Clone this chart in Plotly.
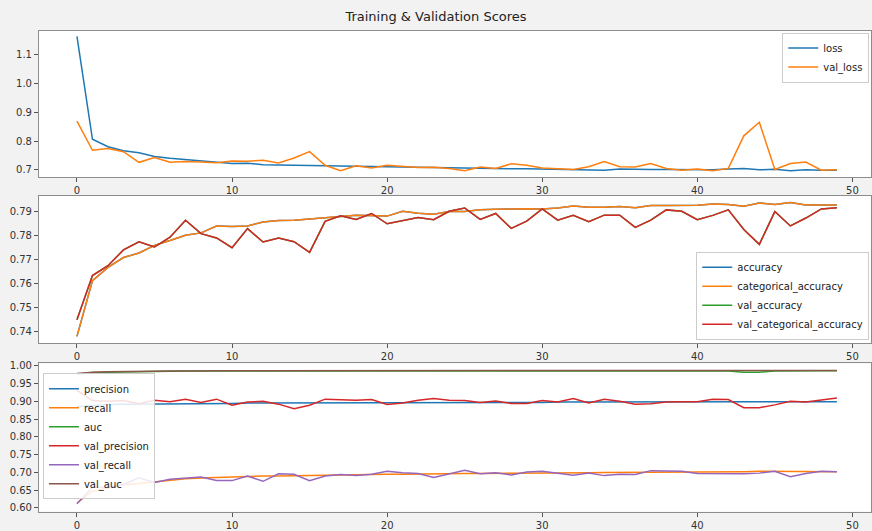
import plotly.graph_objects as go

epochs = list(range(50))

loss = [1.163, 0.806, 0.780, 0.766, 0.759, 0.746, 0.740, 0.736, 0.732, 0.727,
        0.722, 0.723, 0.718, 0.717, 0.716, 0.715, 0.714, 0.713, 0.712, 0.711,
        0.711, 0.710, 0.709, 0.709, 0.708, 0.707, 0.706, 0.705, 0.704, 0.704,
        0.703, 0.703, 0.702, 0.702, 0.699, 0.703, 0.701, 0.701, 0.701, 0.701,
        0.701, 0.700, 0.703, 0.705, 0.700, 0.702, 0.697, 0.700, 0.699, 0.699]
val_loss = [0.869, 0.768, 0.774, 0.763, 0.726, 0.743, 0.726, 0.729, 0.727, 0.725,
            0.731, 0.730, 0.733, 0.724, 0.741, 0.763, 0.716, 0.697, 0.714, 0.706,
            0.716, 0.712, 0.708, 0.709, 0.705, 0.697, 0.710, 0.705, 0.721, 0.716,
            0.706, 0.704, 0.701, 0.711, 0.729, 0.711, 0.710, 0.722, 0.705, 0.699,
            0.703, 0.697, 0.705, 0.818, 0.865, 0.701, 0.722, 0.727, 0.699, 0.700]

categorical_accuracy = [0.7379, 0.7612, 0.7667, 0.7708, 0.7727, 0.7759, 0.7779, 0.7801, 0.7811, 0.7840,
                        0.7838, 0.7840, 0.7856, 0.7863, 0.7864, 0.7868, 0.7875, 0.7879, 0.7885, 0.7884,
                        0.7881, 0.7901, 0.7893, 0.7889, 0.7900, 0.7900, 0.7908, 0.7910, 0.7912, 0.7912,
                        0.7911, 0.7915, 0.7923, 0.7918, 0.7918, 0.7921, 0.7916, 0.7925, 0.7925, 0.7926,
                        0.7926, 0.7932, 0.7929, 0.7922, 0.7936, 0.7930, 0.7938, 0.7927, 0.7927, 0.7927]
accuracy = list(categorical_accuracy)
val_categorical_accuracy = [0.7448, 0.7633, 0.7674, 0.7740, 0.7774, 0.7752, 0.7793, 0.7864, 0.7808, 0.7790,
                            0.7749, 0.7829, 0.7773, 0.7790, 0.7774, 0.7730, 0.7859, 0.7882, 0.7867, 0.7892,
                            0.7849, 0.7862, 0.7875, 0.7866, 0.7901, 0.7915, 0.7867, 0.7892, 0.7830, 0.7860,
                            0.7911, 0.7864, 0.7884, 0.7858, 0.7885, 0.7885, 0.7834, 0.7864, 0.7907, 0.7901,
                            0.7866, 0.7884, 0.7907, 0.7825, 0.7763, 0.7900, 0.7840, 0.7873, 0.7911, 0.7916]
val_accuracy = list(val_categorical_accuracy)

precision = [0.885, 0.889, 0.891, 0.892, 0.892, 0.893, 0.893, 0.893, 0.893, 0.894,
             0.894, 0.895, 0.895, 0.895, 0.895, 0.895, 0.896, 0.896, 0.896, 0.896,
             0.896, 0.896, 0.896, 0.897, 0.897, 0.897, 0.897, 0.897, 0.897, 0.897,
             0.897, 0.898, 0.898, 0.898, 0.898, 0.898, 0.898, 0.898, 0.898, 0.898,
             0.898, 0.898, 0.898, 0.898, 0.900, 0.899, 0.898, 0.898, 0.898, 0.899]
recall = [0.614, 0.647, 0.656, 0.665, 0.669, 0.674, 0.679, 0.682, 0.684, 0.686,
          0.688, 0.689, 0.690, 0.690, 0.691, 0.692, 0.692, 0.693, 0.694, 0.694,
          0.695, 0.695, 0.696, 0.696, 0.696, 0.697, 0.697, 0.697, 0.698, 0.698,
          0.698, 0.699, 0.699, 0.699, 0.700, 0.700, 0.700, 0.701, 0.701, 0.701,
          0.702, 0.702, 0.702, 0.702, 0.703, 0.703, 0.704, 0.704, 0.702, 0.702]
auc = [0.976, 0.981, 0.982, 0.983, 0.984, 0.984, 0.985, 0.985, 0.985, 0.985,
       0.985, 0.985, 0.985, 0.985, 0.985, 0.985, 0.985, 0.986, 0.986, 0.986,
       0.986, 0.986, 0.986, 0.986, 0.986, 0.986, 0.986, 0.986, 0.986, 0.986,
       0.986, 0.986, 0.986, 0.986, 0.986, 0.986, 0.986, 0.986, 0.986, 0.986,
       0.986, 0.986, 0.985, 0.982, 0.982, 0.985, 0.986, 0.986, 0.986, 0.986]
val_precision = [0.931, 0.902, 0.900, 0.902, 0.893, 0.903, 0.899, 0.906, 0.897, 0.906,
                 0.889, 0.898, 0.900, 0.892, 0.879, 0.889, 0.906, 0.904, 0.903, 0.905,
                 0.891, 0.895, 0.903, 0.908, 0.903, 0.902, 0.897, 0.901, 0.894, 0.894,
                 0.902, 0.898, 0.908, 0.895, 0.906, 0.900, 0.892, 0.893, 0.898, 0.899,
                 0.899, 0.906, 0.905, 0.882, 0.882, 0.890, 0.900, 0.898, 0.904, 0.909]
val_recall = [0.612, 0.658, 0.658, 0.666, 0.685, 0.672, 0.681, 0.684, 0.687, 0.677,
              0.677, 0.690, 0.675, 0.696, 0.695, 0.677, 0.690, 0.694, 0.691, 0.695,
              0.703, 0.699, 0.697, 0.686, 0.697, 0.706, 0.696, 0.699, 0.693, 0.701,
              0.703, 0.698, 0.692, 0.698, 0.691, 0.695, 0.694, 0.705, 0.705, 0.703,
              0.697, 0.696, 0.696, 0.696, 0.698, 0.703, 0.688, 0.697, 0.703, 0.702]
val_auc = [0.978, 0.982, 0.983, 0.984, 0.984, 0.985, 0.985, 0.985, 0.986, 0.986,
           0.986, 0.986, 0.986, 0.986, 0.986, 0.986, 0.987, 0.987, 0.987, 0.987,
           0.987, 0.987, 0.987, 0.987, 0.987, 0.987, 0.987, 0.987, 0.987, 0.987,
           0.987, 0.987, 0.987, 0.987, 0.987, 0.987, 0.987, 0.987, 0.987, 0.987,
           0.987, 0.987, 0.987, 0.987, 0.987, 0.987, 0.987, 0.987, 0.987, 0.987]

C = ["#1f77b4", "#ff7f0e", "#2ca02c", "#d62728", "#9467bd", "#8c564b"]

fig = go.Figure()

panels = [
    ("x", "y", "legend", [("loss", loss), ("val_loss", val_loss)]),
    ("x2", "y2", "legend2", [("accuracy", accuracy), ("categorical_accuracy", categorical_accuracy),
                             ("val_accuracy", val_accuracy), ("val_categorical_accuracy", val_categorical_accuracy)]),
    ("x3", "y3", "legend3", [("precision", precision), ("recall", recall), ("auc", auc),
                             ("val_precision", val_precision), ("val_recall", val_recall), ("val_auc", val_auc)]),
]
for xa, ya, lg, series in panels:
    for i, (name, vals) in enumerate(series):
        fig.add_trace(go.Scatter(x=epochs, y=vals, name=name, mode="lines",
                                 line=dict(color=C[i], width=1.5),
                                 xaxis=xa, yaxis=ya, legend=lg))

tickfont = dict(family="DejaVu Sans", size=10, color="#333333")
axis_common = dict(showgrid=False, zeroline=False, showline=True, linecolor="#8c8c8c", linewidth=1,
                   mirror=True, ticks="outside", ticklen=4, tickcolor="#555555", tickfont=tickfont)

xr = [-2.45, 51.2]
xdom = [39 / 872, 1.0]
doms = [[1 - 177 / 531, 1 - 28 / 531], [1 - 345.3 / 531, 1 - 195.7 / 531], [1 - 516.3 / 531, 1 - 366 / 531]]

legend_common = dict(bgcolor="rgba(255,255,255,0.85)", bordercolor="#cccccc", borderwidth=1,
                     font=dict(family="DejaVu Sans", size=10, color="#222222"),
                     itemwidth=30, tracegroupgap=0)

fig.update_layout(
    width=872, height=531,
    margin=dict(l=0, r=0, t=0, b=0),
    paper_bgcolor="#f2f2f2", plot_bgcolor="#ffffff",
    title=dict(text="Training & Validation Scores", x=0.5, xanchor="center", y=1 - 16 / 531, yanchor="middle",
               font=dict(family="DejaVu Sans", size=13, color="#222222")),
    xaxis=dict(domain=xdom, range=xr, anchor="y", tickvals=[0, 10, 20, 30, 40, 50], **axis_common),
    yaxis=dict(domain=doms[0], range=[0.674, 1.183], anchor="x", tickvals=[0.7, 0.8, 0.9, 1.0, 1.1],
               tickformat=".1f", **axis_common),
    xaxis2=dict(domain=xdom, range=xr, anchor="y2", tickvals=[0, 10, 20, 30, 40, 50], **axis_common),
    yaxis2=dict(domain=doms[1], range=[0.7351, 0.7966], anchor="x2",
                tickvals=[0.74, 0.75, 0.76, 0.77, 0.78, 0.79], tickformat=".2f", **axis_common),
    xaxis3=dict(domain=xdom, range=xr, anchor="y3", tickvals=[0, 10, 20, 30, 40, 50], **axis_common),
    yaxis3=dict(domain=doms[2], range=[0.590, 1.0064], anchor="x3",
                tickvals=[0.60, 0.65, 0.70, 0.75, 0.80, 0.85, 0.90, 0.95, 1.00], tickformat=".2f", **axis_common),
    legend=dict(x=0.998, y=1 - 30 / 531, xanchor="right", yanchor="top", **legend_common),
    legend2=dict(x=0.998, y=1 - 342 / 531, xanchor="right", yanchor="bottom", **legend_common),
    legend3=dict(x=43 / 872, y=1 - 440 / 531, xanchor="left", yanchor="middle", **legend_common),
)

fig.write_html("out.html",
               config={"displayModeBar": False},
               post_script="document.body.style.margin='0';document.body.style.overflow='hidden';")
